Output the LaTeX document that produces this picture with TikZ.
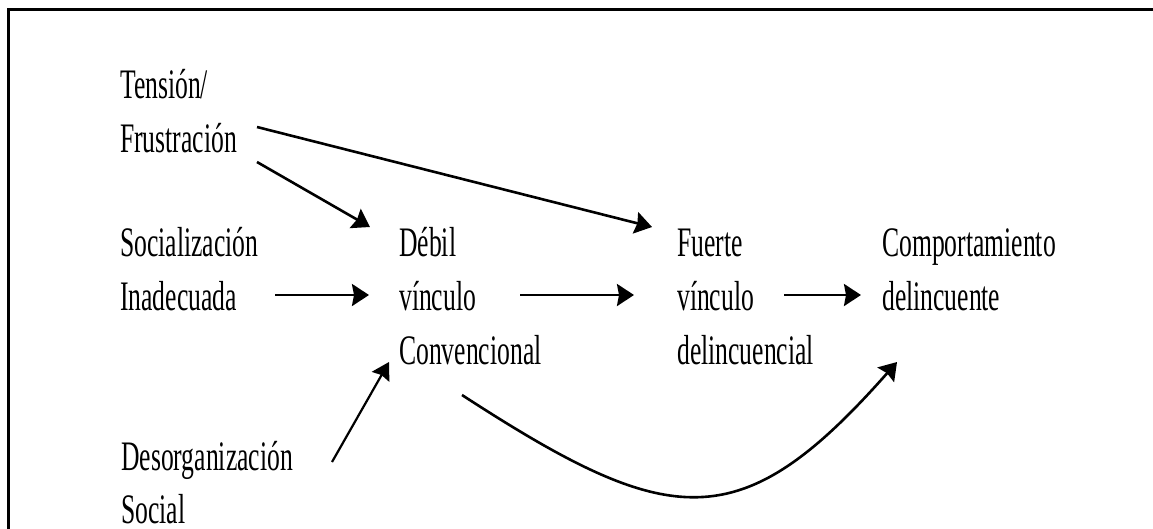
\documentclass[tikz,border=0pt]{standalone}
\usepackage{fontspec}
\newfontfamily\condserif[FakeStretch=0.61]{Liberation Serif}
\usetikzlibrary{arrows.meta}
\tikzset{
  lbl/.style={anchor=base west, inner sep=0pt, font=\condserif\fontsize{42}{54}\selectfont},
  arr/.style={line width=2.6pt, -{Stealth[length=17pt,width=22pt,inset=2pt]}},
  thinarr/.style={line width=2.2pt, -{Stealth[length=17pt,width=20pt,inset=2pt]}},
  framebox/.style={line width=2.6pt}
}
\begin{document}
\begin{tikzpicture}[x=1pt,y=-1pt]
\useasboundingbox (0,0) rectangle (1153,528);
\fill[white] (0,0) rectangle (1153,528);
\draw[framebox] (8.7,540) -- (8.7,9.5) -- (1165,9.5);

% labels
\node[lbl] (ten1) at (120,98)  {Tensión/};
\node[lbl] (ten2) at (120,152) {Frustración};
\node[lbl] (soc1) at (120,256) {Socialización};
\node[lbl] (soc2) at (120,310) {Inadecuada};
\node[lbl] (deb1) at (399,256) {Débil};
\node[lbl] (deb2) at (399,310) {vínculo};
\node[lbl] (deb3) at (399,364) {Convencional};
\node[lbl] (fue1) at (677,256) {Fuerte};
\node[lbl] (fue2) at (677,310) {vínculo};
\node[lbl] (fue3) at (677,364) {delincuencial};
\node[lbl] (com1) at (882,256) {Comportamiento};
\node[lbl] (com2) at (882,310) {delincuente};
\node[lbl] (des1) at (121,470) {Desorganización};
\node[lbl] (des2) at (121,523) {Social};

% connector end points
\coordinate (tfS) at (257,127);
\coordinate (tfE) at (652,227);
\coordinate (tdS) at (257,162);
\coordinate (tdE) at (370,227);
\coordinate (siS) at (275,295);
\coordinate (siE) at (369,295);
\coordinate (dfS) at (520,295);
\coordinate (dfE) at (634,295);
\coordinate (fcS) at (784,295);
\coordinate (fcE) at (861,295);
\coordinate (doS) at (332,462);
\coordinate (doE) at (389,362);
\coordinate (cvS) at (462,395);
\coordinate (cvE) at (897,362);

\draw[arr] (tfS) -- (tfE);
\draw[arr] (tdS) -- (tdE);
\draw[arr] (siS) -- (siE);
\draw[arr] (dfS) -- (dfE);
\draw[arr] (fcS) -- (fcE);
\draw[thinarr] (doS) -- (doE);
\draw[arr] (cvS) .. controls (670,530) and (740,540) .. (cvE);
\end{tikzpicture}
\end{document}
